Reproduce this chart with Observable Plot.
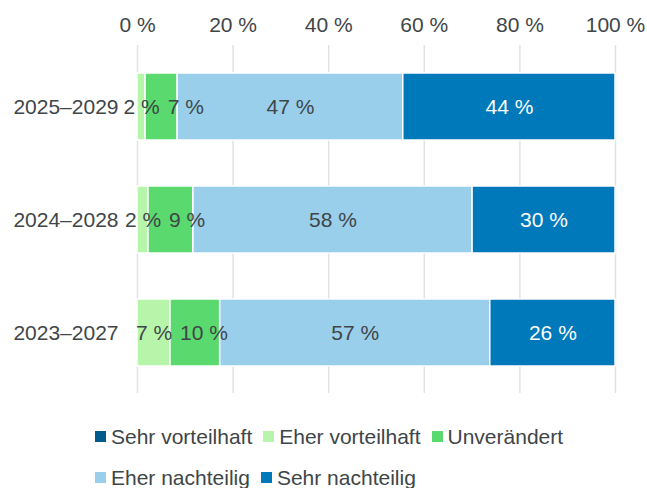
<!DOCTYPE html>
<html>
<head>
<meta charset="utf-8">
<script src="https://cdn.jsdelivr.net/npm/d3@7"></script>
<script src="https://cdn.jsdelivr.net/npm/@observablehq/plot@0.6"></script>
<style>
  html, body { margin: 0; padding: 0; background: #fff; }
  body { font-family: "Liberation Sans", Arial, sans-serif; color: #404548; }
  #legend { display: flex; flex-wrap: wrap; width: 480px; margin: 16px 0 0 95px; font-size: 21px; }
  .item { display: flex; align-items: center; height: 41px; margin-right: 11px; white-space: nowrap; }
  .sw { width: 11px; height: 11px; margin-right: 5px; }
</style>
</head>
<body>
<div id="chart"></div>
<div id="legend"></div>
<script>
const periods = ["2025–2029", "2024–2028", "2023–2027"];
const series = ["Sehr vorteilhaft", "Eher vorteilhaft", "Unverändert", "Eher nachteilig", "Sehr nachteilig"];
const colors = ["#005a8c", "#b7f5ab", "#5ad96e", "#99cfeb", "#0079bb"];
const labelColors = ["#fff", "#404548", "#404548", "#404548", "#fff"];
const v2025 = [0, 1.7, 6.7, 47.2, 44.4];
const v2024 = [0, 2.3, 9.4, 58.4, 29.9];
const v2023 = [0, 6.9, 10.4, 56.5, 26.2];
const xTicks = [0, 20, 40, 60, 80, 100];

const W = 647, H = 400, ML = 137, MR = 32, MT = 45, MB = 7;
const FS = 21;
const rows = [v2025, v2024, v2023];
const data = [];
rows.forEach((vals, i) => vals.forEach((v, j) => data.push({period: periods[i], series: series[j], value: v})));

// label placement: centered in segment, pushed right if overlapping the previous label
const ctx = document.createElement("canvas").getContext("2d");
ctx.font = `${FS}px "Liberation Sans", Arial, sans-serif`;
const ppu = (W - ML - MR) / 100;
const GAP = 8;
const labels = [];
rows.forEach((vals, i) => {
  let acc = 0, prevRight = -Infinity;
  vals.forEach((v, j) => {
    const start = acc; acc += v;
    if (v <= 0) return;
    const txt = `${Math.round(v)} %`;
    const w = ctx.measureText(txt).width;
    let cx = ML + (start + v / 2) * ppu;
    if (cx - w / 2 < prevRight + GAP) cx = prevRight + GAP + w / 2;
    prevRight = cx + w / 2;
    labels.push({period: periods[i], x: (cx - ML) / ppu, text: txt, color: labelColors[j]});
  });
});

const plot = Plot.plot({
  width: W, height: H,
  marginLeft: ML, marginRight: MR, marginTop: MT, marginBottom: MB,
  style: {fontFamily: '"Liberation Sans", Arial, sans-serif', fontSize: FS + "px", color: "#404548", background: "#fff"},
  x: {domain: [0, 100]},
  y: {domain: periods, paddingInner: 0.41, paddingOuter: 0.237, align: 0.5},
  color: {domain: series, range: colors},
  marks: [
    Plot.gridX(xTicks, {stroke: "#dfe3e6", strokeOpacity: 1, strokeWidth: 1.5}),
    Plot.axisX({anchor: "top", ticks: xTicks, tickFormat: d => `${d} %`, tickSize: 0, tickPadding: 14, fontSize: FS, fill: "#404548", label: null}),
    Plot.axisY({tickSize: 0, tickPadding: 19, fontSize: FS, fill: "#404548", label: null}),
    Plot.barX(data, Plot.stackX({x: "value", y: "period", fill: "series", order: series, filter: d => d.value > 0, stroke: "#fff", strokeWidth: 1.5})),
    Plot.text(labels, {x: "x", y: "period", text: "text", fill: "color", fontSize: FS})
  ]
});
document.getElementById("chart").append(plot);

const legend = document.getElementById("legend");
series.forEach((s, i) => {
  const it = document.createElement("div"); it.className = "item";
  const sw = document.createElement("div"); sw.className = "sw"; sw.style.background = colors[i];
  const t = document.createElement("span"); t.textContent = s;
  it.append(sw, t); legend.append(it);
});
</script>
</body>
</html>
